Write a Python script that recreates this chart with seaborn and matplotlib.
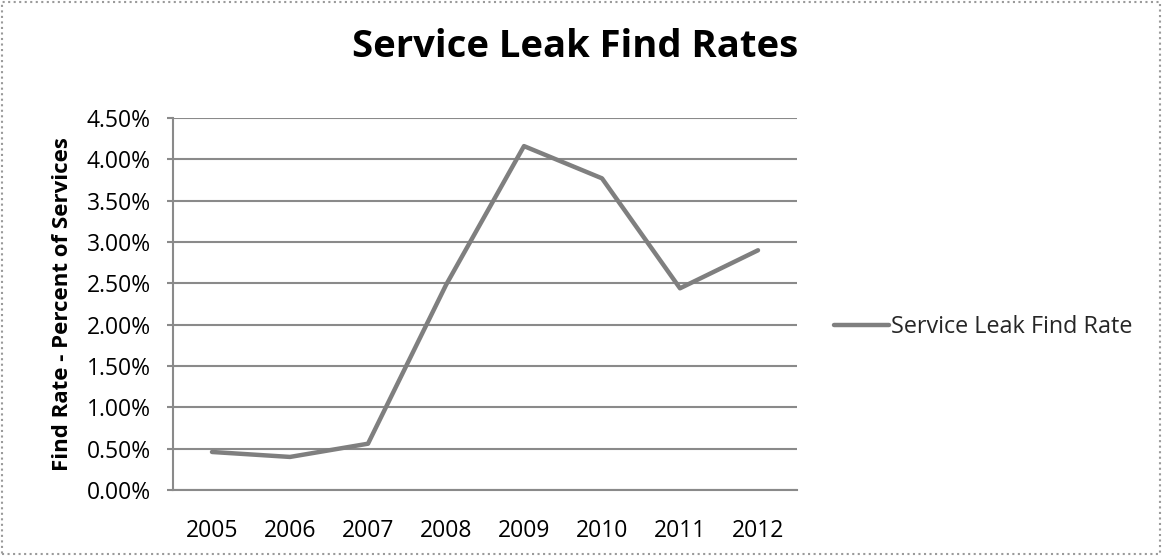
import matplotlib
matplotlib.use("Agg")
import matplotlib.pyplot as plt
import matplotlib.ticker as mticker
from matplotlib.patches import Rectangle
import seaborn as sns
import pandas as pd

years = ["2005", "2006", "2007", "2008", "2009", "2010", "2011", "2012"]
find_rate = [0.46, 0.40, 0.56, 2.48, 4.16, 3.77, 2.44, 2.90]
series_name = "Service Leak Find Rate"
y_ticks = [0.0, 0.5, 1.0, 1.5, 2.0, 2.5, 3.0, 3.5, 4.0, 4.5]

sns.set_theme(style="white")
plt.rcParams['font.family'] = ['Open Sans', 'DejaVu Sans']

df = pd.DataFrame({"Year": years, "Rate": find_rate})

fig = plt.figure(figsize=(11.62, 5.56), dpi=100)
ax = fig.add_axes([173/1162, 66/556, 624/1162, 372/556])

gray = "#8a8a8a"
sns.lineplot(data=df, x="Year", y="Rate", ax=ax, color="#7f7f7f", linewidth=3.2,
             label=series_name, sort=False)

ax.set_xlim(-0.5, len(years) - 0.5)
ax.set_ylim(0, 4.5)
ax.set_yticks(y_ticks)
ax.yaxis.set_major_formatter(mticker.FuncFormatter(lambda v, p: f"{v:.2f}%"))
ax.grid(axis="y", color=gray, linewidth=1.5)
ax.set_axisbelow(True)
for s in ["top", "right"]:
    ax.spines[s].set_visible(False)
for s in ["left", "bottom"]:
    ax.spines[s].set_color(gray)
    ax.spines[s].set_linewidth(1.5)
ax.tick_params(axis="y", which="major", left=True, length=4, width=1.5, color=gray,
               labelsize=16.5, pad=12)
ax.tick_params(axis="x", bottom=False, labelsize=16.5, pad=15)
for lbl in ax.get_xticklabels() + ax.get_yticklabels():
    lbl.set_color("black")
ax.set_xlabel("")
ax.set_ylabel("Find Rate - Percent of Services", fontsize=16, fontweight="bold",
              labelpad=10, color="black")

fig.suptitle("Service Leak Find Rates", x=575/1162, y=1 - 47/556, va="center",
             fontsize=27.5, fontweight="bold", color="black")

leg = ax.legend(loc="center left", bbox_to_anchor=(834/1162, 1 - 327/556),
                bbox_transform=fig.transFigure, frameon=False, fontsize=16.8,
                handlelength=2.35, handletextpad=0.1, borderaxespad=0, borderpad=0)

fig.patches.append(Rectangle((2/1162, 2/556), 1 - 4/1162, 1 - 4/556,
                             transform=fig.transFigure, fill=False,
                             edgecolor="#9a9a9a", linewidth=1.5, linestyle=":"))

fig.savefig("out.png", dpi=100)
